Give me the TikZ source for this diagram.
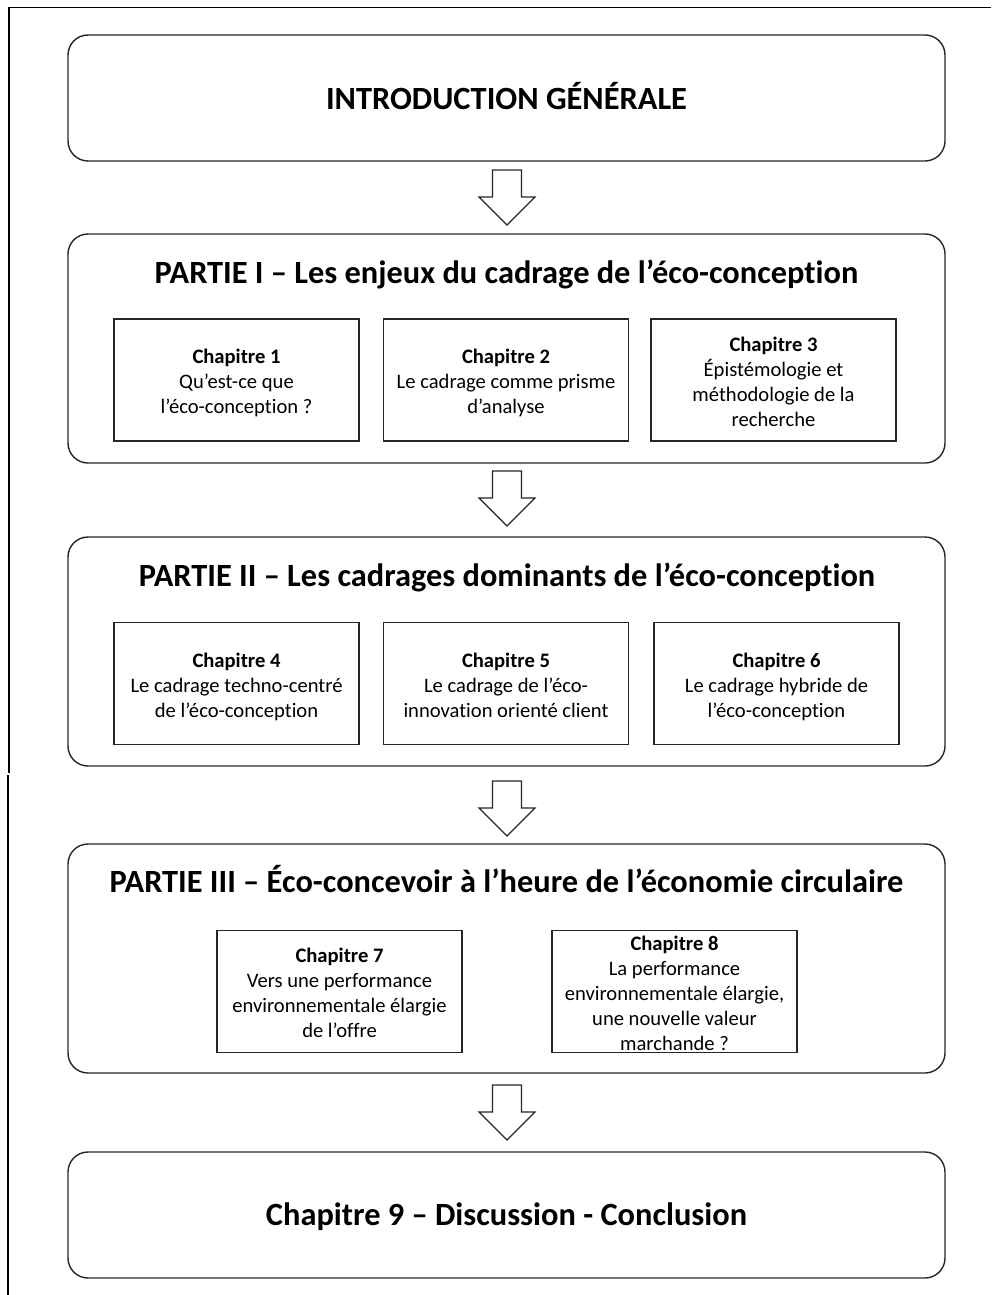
\documentclass[tikz,border=0pt]{standalone}
\usepackage{fontspec}
\setmainfont{Carlito}[Ligatures=NoCommon]
\begin{document}
\begin{tikzpicture}[x=1pt,y=-1pt,
  partbox/.style={draw=black!85,line width=1.4pt,rounded corners=20pt},
  chapbox/.style={draw=black!85,line width=1.3pt,minimum width=245pt,minimum height=122pt,inner sep=0pt},
  chaptext/.style={inner sep=0pt,align=center,yshift=-3.5pt,font=\fontsize{20.6}{25}\selectfont},
  bigtitle/.style={font=\bfseries\fontsize{32.4}{36}\selectfont,inner sep=0pt,anchor=base},
  parttitle/.style={font=\bfseries\fontsize{32.4}{36}\selectfont,inner sep=0pt,anchor=base},
  blockarr/.style={draw=black!85,line width=1.1pt,fill=white,line join=miter}]
\useasboundingbox (0,0) rectangle (991,1295);
% frame
\draw[line width=1.4pt] (991,7.5) -- (9,7.5) -- (9,773);
\draw[line width=1.4pt] (8,775) -- (8,1295);
\newcommand\blockarrowat[2]{%
  \draw[blockarr] (#1-14.5,#2) -- (#1+14.5,#2) -- (#1+14.5,#2+27) -- (#1+28,#2+27)
   -- (#1,#2+55) -- (#1-28,#2+27) -- (#1-14.5,#2+27) -- cycle;}
\newcommand\chapter[3]{%
  \node[chapbox] (#1) at (#2) {};
  \node[chaptext] (#1t) at (#1.center) {\strut #3\strut};}
% intro
\draw[partbox] (68,35) rectangle (945,161);
\node[bigtitle] (intro) at (506.5,109.5) {INTRODUCTION GÉNÉRALE};
\blockarrowat{507}{170}
% part I
\draw[partbox] (68,234) rectangle (945,463);
\node[parttitle] (p1) at (506.5,283.5) {PARTIE I – Les enjeux du cadrage de l’éco-conception};
\chapter{c1}{236.5,380}{\textbf{Chapitre 1}\\Qu’est-ce que\\l’éco-conception ?}
\chapter{c2}{506,380}{\textbf{Chapitre 2}\\Le cadrage comme prisme\\d’analyse}
\chapter{c3}{773.5,380}{\textbf{Chapitre 3}\\Épistémologie et\\méthodologie de la\\recherche}
\blockarrowat{507}{471}
% part II
\draw[partbox] (68,537) rectangle (945,766);
\node[parttitle] (p2) at (507,586.5) {PARTIE II – Les cadrages dominants de l’éco-conception};
\chapter{c4}{236.5,683.5}{\textbf{Chapitre 4}\\Le cadrage techno-centré\\de l’éco-conception}
\chapter{c5}{506,683.5}{\textbf{Chapitre 5}\\Le cadrage de l’éco-\\innovation orienté client}
\chapter{c6}{776.5,683.5}{\textbf{Chapitre 6}\\Le cadrage hybride de\\l’éco-conception}
\blockarrowat{507}{781}
% part III
\draw[partbox] (68,844) rectangle (945,1073);
\node[parttitle] (p3) at (506.5,892.5) {PARTIE III – Éco-concevoir à l’heure de l’économie circulaire};
\chapter{c7}{339.5,991.5}{\textbf{Chapitre 7}\\Vers une performance\\environnementale élargie\\de l’offre}
\chapter{c8}{674.5,991.5}{\textbf{Chapitre 8}\\La performance\\environnementale élargie,\\une nouvelle valeur\\marchande ?}
\blockarrowat{507}{1085}
% conclusion
\draw[partbox] (68,1152) rectangle (945,1278);
\node[bigtitle] (concl) at (506.5,1225.5) {Chapitre 9 – Discussion - Conclusion};
\end{tikzpicture}
\end{document}
